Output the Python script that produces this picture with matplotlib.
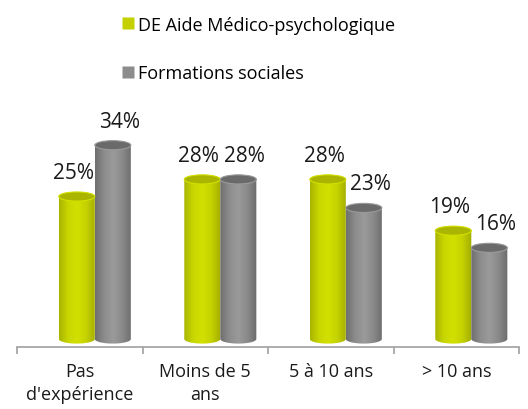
import numpy as np
import matplotlib.pyplot as plt
from matplotlib.path import Path
from matplotlib.patches import PathPatch, Ellipse
from matplotlib.colors import LinearSegmentedColormap
from matplotlib.lines import Line2D

plt.rcParams['font.family'] = ['Open Sans', 'DejaVu Sans']

categories = ["Pas\nd'expérience", "Moins de 5\nans", "5 à 10 ans", "> 10 ans"]
series_names = ["DE Aide Médico-psychologique", "Formations sociales"]
amp_values = [25, 28, 28, 19]
social_values = [34, 28, 23, 16]

# body gradient (left -> right), cap colour, legend colour
styles = [
    (["#a9b400", "#c9d800", "#d2e000", "#c4d200", "#a3ad00"], "#aab500", "#c4d000"),
    (["#6f6f6f", "#8d8d8d", "#9a9a9a", "#8a8a8a", "#6c6c6c"], "#6a6a6a", "#8c8c8c"),
]

fig = plt.figure(figsize=(5.28, 4.10), dpi=100)
ax = fig.add_axes([17 / 528, 62 / 410, 502 / 528, 236 / 410])

x = np.arange(len(categories))
width = 0.287
shift = 0.12
cap_h = 1.6


def cylinder(ax, xc, v, cols, cap):
    x0, x1 = xc - width / 2, xc + width / 2
    t = np.linspace(np.pi, 2 * np.pi, 40)
    bottom = np.column_stack([xc + width / 2 * np.cos(t), cap_h / 2 * np.sin(t)])
    t2 = np.linspace(0, np.pi, 40)
    top = np.column_stack([xc + width / 2 * np.cos(t2), v + cap_h / 2 * np.sin(t2)])
    verts = np.vstack([[[x0, v]], bottom, [[x1, v]], top, [[x0, v]]])
    codes = [Path.MOVETO] + [Path.LINETO] * (len(verts) - 2) + [Path.CLOSEPOLY]
    body = PathPatch(Path(verts, codes), facecolor='none', edgecolor='none')
    ax.add_patch(body)
    cmap = LinearSegmentedColormap.from_list('c', cols)
    grad = np.linspace(0, 1, 64).reshape(1, -1)
    im = ax.imshow(grad, cmap=cmap, aspect='auto', interpolation='bicubic',
                   extent=[x0, x1, -cap_h, v + cap_h], zorder=2)
    im.set_clip_path(body)
    ax.add_patch(Ellipse((xc, v), width, cap_h, facecolor=cap,
                         edgecolor=cols[2], lw=0.8, zorder=3))


for i, vals in enumerate([amp_values, social_values]):
    cols, cap, _ = styles[i]
    offset = shift + (i - 0.5) * width
    for xi, v in zip(x, vals):
        cylinder(ax, xi + offset, v, cols, cap)
        dx = -0.03 if i == 0 else 0.05
        ax.text(xi + offset + dx, v + 2.4, f"{v}%", ha='center', va='bottom',
                fontsize=15, color='#1a1a1a', zorder=4)

ax.set_xlim(-0.5, len(categories) - 0.5)
ax.set_ylim(-1.4, 40)
for s in ['top', 'right', 'left']:
    ax.spines[s].set_visible(False)
ax.spines['bottom'].set_color('#a0a0a0')
ax.spines['bottom'].set_linewidth(1.2)
ax.set_yticks([])
ax.set_xticks(np.arange(len(categories) + 1) - 0.5, minor=False)
ax.set_xticklabels([])
ax.tick_params(axis='x', which='major', length=5, color='#a0a0a0', width=1.2)
ax.set_xticks(x, minor=True)
ax.set_xticklabels(categories, minor=True, fontsize=13, color='#1a1a1a',
                   linespacing=1.35)
ax.tick_params(axis='x', which='minor', length=0, pad=11)

handles = [Line2D([], [], marker='s', linestyle='none', markersize=8.5,
                  markerfacecolor=styles[i][2], markeredgecolor='none')
           for i in range(2)]
fig.legend(handles, series_names, loc='upper left', bbox_to_anchor=(106 / 528, 0.99),
           frameon=False, fontsize=13, handletextpad=0.05, labelspacing=1.7,
           handlelength=1.0, borderaxespad=0.3)

fig.savefig('out.png', dpi=100)
